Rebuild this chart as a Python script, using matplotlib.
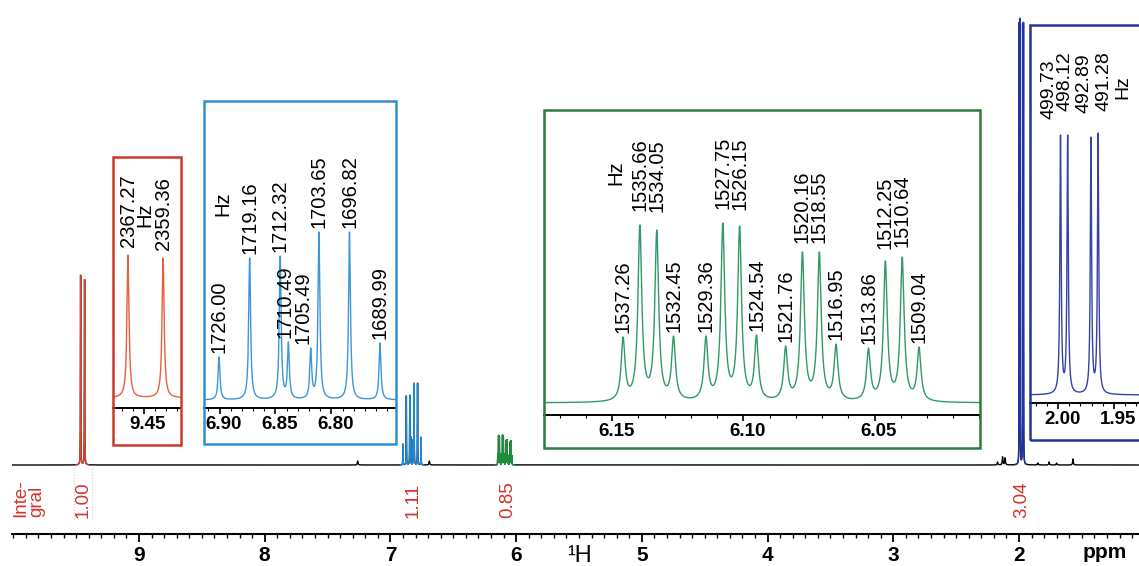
import numpy as np
import matplotlib
matplotlib.use("Agg")
import matplotlib.pyplot as plt
from matplotlib.patches import Rectangle
from matplotlib.transforms import ScaledTranslation
from matplotlib.ticker import MultipleLocator, FixedLocator, FormatStrFormatter

plt.rcParams['font.family'] = ['Liberation Sans', 'DejaVu Sans']

W, H = 1139, 566
MHZ = 250.13  # spectrometer frequency

# ---------------- data ----------------
ald_hz = [2367.27, 2359.36]
ald_h = [143, 140]

blue_hz = [1726.00, 1719.16, 1712.32, 1710.49, 1705.49, 1703.65, 1696.82, 1689.99]
blue_h = [43, 142, 144, 58, 52, 168, 168, 57]

green_hz = [1537.26, 1535.66, 1534.05, 1532.45, 1529.36, 1527.75, 1526.15, 1524.54,
            1521.76, 1520.16, 1518.55, 1516.95, 1513.86, 1512.25, 1510.64, 1509.04]
green_h = [66, 178, 173, 67, 67, 180, 177, 68, 57, 151, 151, 59, 55, 142, 146, 56]

me_hz = [499.73, 498.12, 492.89, 491.28]
me_h = [260, 260, 258, 262]

main_max = [190, 82, 30, 452]          # tallest line of each group in the full spectrum
integral_vals = ["1.00", "1.11", "0.85", "3.04"]
integral_ppm = [9.448, 6.82, 6.065, 1.98]

impurity_ppm = [7.26, 6.69, 2.17, 2.13, 2.11, 1.85, 1.76, 1.70, 1.57]
impurity_h = [4, 4, 3, 8, 7, 2, 3, 2, 6]

main_ticks = [9, 8, 7, 6, 5, 4, 3, 2]

# ---------------- styles ----------------
groups = [
    dict(hz=ald_hz, h=ald_h, gam=0.28, line='#e8603a', box='#c93a2c', rng=(9.40, 9.50),
         box_px=(113, 157, 181, 445), axis_px=408, base_px=398, xl=(9.4777, 9.4164),
         hzpos=(0.47, 0.80), nudge=[0, 0], gap=[8, 8], fs=14.5, ticks=[9.45]),
    dict(hz=blue_hz, h=blue_h, gam=0.25, line='#3b97d9', box='#2f8ed6', rng=(6.74, 6.92),
         box_px=(204, 101, 396, 444), axis_px=408, base_px=400, xl=(6.9139, 6.7422),
         hzpos=(0.10, 0.70), nudge=[0, 0, 0, -3, -8, 0, 0, 0], gap=[4] * 8, fs=14.5,
         ticks=[6.90, 6.85, 6.80]),
    dict(hz=green_hz, h=green_h, gam=0.22, line='#2f9a68', box='#2f7a3c', rng=(6.01, 6.17),
         box_px=(544, 110, 980, 448), axis_px=415, base_px=403, xl=(6.1760, 6.0098),
         hzpos=(0.165, 0.815), nudge=[0] * 16,
         gap=[4, 14, 18, 4, 4, 14, 16, 4, 4, 9, 9, 4, 4, 12, 10, 4], fs=14.5,
         ticks=[6.15, 6.10, 6.05]),
    dict(hz=me_hz, h=me_h, gam=0.17, line='#3343a6', box='#2334a0', rng=(1.94, 2.03),
         box_px=(1030, 25, 1150, 440), axis_px=403, base_px=395, xl=(2.0253, 1.9175),
         hzpos=(0.77, 0.85), nudge=[-12, -3, -7, 6], gap=[16, 24, 24, 22], fs=14,
         ticks=[2.00, 1.95]),
]
main_colors = ['#e3422b', '#1f88d4', '#1d8f3a', '#2233a8']


def lor(x, c, a, g):
    return a / (1.0 + ((x - c) / g) ** 2)


def amplitudes(centers, heights, g):
    c = np.asarray(centers)
    A = 1.0 / (1.0 + ((c[:, None] - c[None, :]) / g) ** 2)
    return np.linalg.solve(A, np.asarray(heights, float))


def curve(x, centers, amps, g):
    y = np.zeros_like(x)
    for c, a in zip(centers, amps):
        y += lor(x, c, a, g)
    return y


fig = plt.figure(figsize=(W / 100, H / 100), dpi=100)


def px_axes(x0, y0, x1, y1, **kw):
    return fig.add_axes([x0 / W, 1 - y1 / H, (x1 - x0) / W, (y1 - y0) / H], **kw)


# ---------------- main spectrum ----------------
ax = px_axes(12, 0, 1139, 534)
ax.set_xlim(10.01, 1.045)
ax.set_ylim(-69, 465)

x = np.arange(1.0, 10.05, 0.0002)
total = np.zeros_like(x)
for g, mx in zip(groups, main_max):
    cen = np.array(g['hz']) / MHZ
    gam = g['gam'] / MHZ
    amp = amplitudes(cen, g['h'], gam) * mx / max(g['h'])
    total += curve(x, cen, amp, gam)
total += curve(x, np.array(impurity_ppm), np.array(impurity_h, float), 0.8 / MHZ)

ax.plot(x, total, color='black', lw=1.0, zorder=2)
for g, col in zip(groups, main_colors):
    m = (x >= g['rng'][0]) & (x <= g['rng'][1])
    ax.plot(x[m], total[m], color=col, lw=1.0, zorder=3)

for s in ['left', 'right', 'top']:
    ax.spines[s].set_visible(False)
ax.spines['bottom'].set_linewidth(1.5)
ax.set_yticks([])
ax.xaxis.set_major_locator(FixedLocator(main_ticks))
ax.xaxis.set_major_formatter(FormatStrFormatter('%d'))
ax.xaxis.set_minor_locator(MultipleLocator(0.1))
ax.tick_params(axis='x', which='major', direction='out', length=6, width=1.3, pad=2.5,
               labelsize=15)
ax.tick_params(axis='x', which='minor', direction='out', length=3, width=1.0)
for lab in ax.get_xticklabels():
    lab.set_fontweight('bold')
ax.patch.set_alpha(0)

# integrals
for v, p in zip(integral_vals, integral_ppm):
    ax.text(p, -35, v, rotation=90, ha='center', va='center', fontsize=13.5, color='#d2322d')
ax.text(0.0, -33, "Inte-\ngral", transform=ax.get_yaxis_transform(), rotation=90,
        ha='left', va='center', fontsize=13.5, color='#d2322d', linespacing=0.95)
ax.plot([9.52, 9.52], [-3, -55], color='#f2c4c4', lw=0.8, ls=':')
ax.plot([9.37, 9.37], [-3, -55], color='#f2c4c4', lw=0.8, ls=':')

fig.text(1105 / W, 1 - 553 / H, 'ppm', ha='center', va='center', fontsize=15, fontweight='bold')
fig.text(580 / W, 1 - 556 / H, '¹H', ha='center', va='center', fontsize=17)

# ---------------- insets ----------------
shift = ScaledTranslation(4 / 100, 0, fig.dpi_scale_trans)
for g in groups:
    x0, y0, x1, y1 = g['box_px']
    ia = px_axes(x0, y0, x1, y1, zorder=5)
    ia.set_facecolor('white')
    ia.set_xlim(*g['xl'])
    ia.set_ylim(-(y1 - g['base_px']), g['base_px'] - y0)
    cen = np.array(g['hz']) / MHZ
    gam = g['gam'] / MHZ
    amp = amplitudes(cen, g['h'], gam)
    xi = np.arange(g['xl'][1] - 0.01, g['xl'][0] + 0.01, 0.00002)
    ia.plot(xi, curve(xi, cen, amp, gam), color=g['line'], lw=1.0, clip_on=True)
    for s in ['left', 'right', 'top']:
        ia.spines[s].set_visible(False)
    ia.spines['bottom'].set_position(('data', -(g['axis_px'] - g['base_px'])))
    ia.spines['bottom'].set_linewidth(1.4)
    ia.set_yticks([])
    ia.xaxis.set_major_locator(FixedLocator(g['ticks']))
    ia.xaxis.set_major_formatter(FormatStrFormatter('%.2f'))
    ia.xaxis.set_minor_locator(MultipleLocator(0.01))
    ia.tick_params(axis='x', which='major', direction='out', length=4, width=1.2, pad=1.5,
                   labelsize=13.5)
    ia.tick_params(axis='x', which='minor', direction='out', length=2, width=0.8)
    for lab in ia.get_xticklabels():
        lab.set_fontweight('bold')
        lab.set_transform(lab.get_transform() + shift)
    ia.add_patch(Rectangle((0, 0), 1, 1, transform=ia.transAxes, fill=False,
                           ec=g['box'], lw=1.8, clip_on=False, zorder=10))
    for hz, c, h, dx, dy in zip(g['hz'], cen, g['h'], g['nudge'], g['gap']):
        ia.annotate(f'{hz:.2f}', xy=(c, h), xytext=(dx * 0.72, dy * 0.72),
                    textcoords='offset points', rotation=90, ha='center', va='bottom',
                    fontsize=g['fs'], annotation_clip=False)
    ia.text(g['hzpos'][0], g['hzpos'][1], 'Hz', transform=ia.transAxes, rotation=90,
            ha='center', va='center', fontsize=g['fs'])

fig.savefig('out.png', dpi=100, facecolor='white')
